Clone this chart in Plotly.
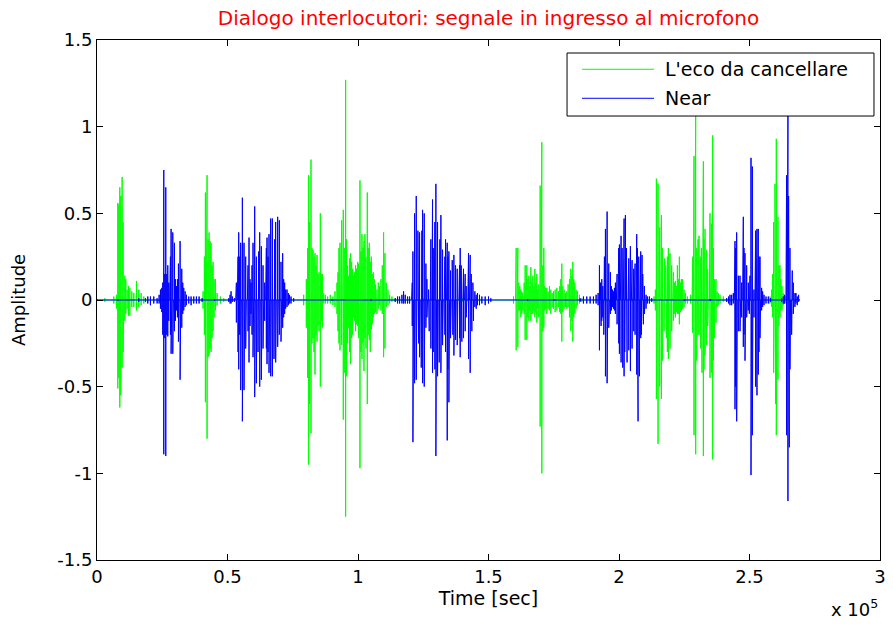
import plotly.graph_objects as go

# ---------------- data (sample index, positive peak, negative peak) ----------------
# "L'eco da cancellare" (green)
echo_t = [
    0, 3000, 6444, 7465, 7975, 8358, 8741, 9124, 9634, 10017, 10272, 10655, 11037, 11548,
    12058, 12569, 13334, 14100, 15121, 16014, 16907, 17928, 25000, 33000,
    40640, 41150, 41534, 41917, 42172, 42555, 42938, 43320, 43703, 44086, 44469, 44852,
    45362, 46000, 47276, 48550, 60000, 70000,
    79186, 80207, 80717, 81100, 81483, 81993, 82376, 82759, 83142, 83524, 83907, 84290,
    84673, 85056, 85566, 85949, 86332, 86842, 87480, 88373, 89394, 90415, 91180, 91946,
    92329, 92712, 93094, 93477, 93733, 94115, 94370, 94753, 95264, 95646, 96029, 96412,
    96795, 97178, 97560, 97943, 98326, 98709, 99092, 99474, 99857, 100240, 100750, 101133,
    101516, 101899, 102282, 102664, 103047, 103558, 103940, 104323, 104706, 105089, 105472,
    105854, 106237, 106748, 107258, 107768, 108279, 108789, 109300, 109810, 110320, 110831,
    111469, 112107, 113000, 114276, 125000, 140000, 150000,
    159584, 160350, 160605, 160988, 161243, 161626, 162008, 162391, 162774, 163157, 163667,
    164050, 164433, 164688, 165071, 165454, 165836, 166219, 166602, 166985, 167368, 167750,
    168133, 168516, 168899, 169282, 169792, 170175, 170430, 170813, 171196, 171578, 171961,
    172344, 172854, 173365, 173875, 174386, 174896, 175534, 176172, 176810, 177320, 177703,
    178086, 178469, 178979, 179490, 180000, 180510, 181021, 181531, 181914, 182297, 182680,
    183062, 183573, 184083, 184849, 185742, 195000, 205000,
    213430, 213940, 214324, 214579, 214962, 215345, 215600, 215983, 216238, 216621, 216876,
    217258, 217514, 217896, 218152, 218534, 218917, 219300, 219555, 219938, 220193, 220576,
    220832, 221214, 221597, 221980, 222363, 222746, 223129, 223512, 223894, 224405, 224915,
    225426, 226191,
    227473, 227984, 228239, 228494, 228749, 229132, 229387, 229770, 230025, 230280, 230663,
    231046, 231301, 231556, 231812, 232067, 232322, 232577, 232960, 233215, 233598, 233981,
    234236, 234619, 234874, 235129, 235384, 235640, 235895, 236150, 236533, 236916, 237171,
    237554, 238064, 238702, 239978, 241254, 250000,
    257842, 258480, 258863, 259246, 259501, 259756, 260011, 260266, 260522, 260904, 261287,
    261670, 262053, 262436, 262946, 263584, 269000,
]
echo_hi = [
    .005, .01, .02, .03, .56, .55, .65, .60, .71, .45, .25, .14, .12, .06,
    .08, .07, .05, .04, .11, .06, .04, .02, .01, .01,
    .05, .25, .62, .55, .72, .35, .39, .34, .33, .20, .22, .12,
    .12, .04, .02, .01, .01, .01,
    .03, .12, .30, .72, .45, .81, .30, .29, .25, .27, .20, .26,
    .15, .16, .50, .15, .15, .04, .03, .02, .03, .02, .05, .10,
    .16, .30, .33, .20, .46, .35, .52, .30, 1.27, .35, .20, .14,
    .24, .27, .22, .18, .14, .16, .20, .18, .22, .21, .69, .28,
    .38, .30, .34, .38, .25, .62, .30, .33, .22, .25, .15,
    .16, .12, .09, .06, .10, .08, .12, .20, .39, .27, .10,
    .06, .03, .02, .01, .01, .01, .01,
    .02, .12, .30, .12, .30, .10, .08, .06, .05, .04, .10,
    .20, .15, .20, .12, .14, .08, .19, .10, .14, .08, .18,
    .10, .15, .06, .09, .66, .40, .91, .20, .30, .08, .07,
    .07, .05, .08, .06, .04, .05, .06, .07, .05, .08, .12,
    .21, .08, .06, .04, .05, .09, .12, .18, .14, .22, .12,
    .10, .06, .05, .03, .01, .01, .01,
    .02, .06, .70, .45, .67, .40, .42, .30, .49, .30, .26,
    .18, .24, .20, .20, .25, .30, .20, .27, .16, .20, .12,
    .16, .10, .11, .08, .20, .12, .25, .10, .12, .12, .06,
    .04, .02,
    .03, .10, .25, .50, .83, .60, 1.10, .30, .24, .35, .37,
    .20, .25, .30, .27, .40, .80, .35, .41, .30, .29, .18,
    .17, .30, .50, .35, .44, .40, .95, .30, .12, .10, .12,
    .05, .04, .03, .02, .01, .01,
    .02, .06, .15, .45, .30, .67, .50, .93, .35, .48, .20,
    .20, .12, .08, .04, .02, .005,
]
echo_lo = [
    -.005, -.01, -.02, -.05, -.51, -.45, -.62, -.55, -.39, -.30, -.30, -.12, -.08, -.05,
    -.09, -.09, -.04, -.04, -.06, -.04, -.03, -.02, -.01, -.01,
    -.05, -.20, -.59, -.55, -.80, -.33, -.32, -.28, -.30, -.22, -.18, -.10,
    -.06, -.03, -.02, -.01, -.01, -.01,
    -.03, -.16, -.45, -.95, -.60, -.77, -.25, -.22, -.30, -.43, -.20, -.24,
    -.15, -.18, -.50, -.12, -.16, -.02, -.02, -.02, -.02, -.03, -.04, -.08,
    -.18, -.25, -.29, -.20, -.26, -.30, -.69, -.42, -1.25, -.44, -.25, -.16,
    -.30, -.37, -.22, -.20, -.10, -.12, -.18, -.14, -.15, -.22, -.97, -.30,
    -.34, -.25, -.41, -.22, -.28, -.60, -.20, -.23, -.30, -.17, -.14,
    -.10, -.08, -.07, -.08, -.05, -.03, -.06, -.08, -.33, -.28, -.04,
    -.03, -.02, -.01, -.01, -.01, -.01, -.01,
    -.02, -.08, -.29, -.10, -.27, -.06, -.06, -.10, -.08, -.06, -.08,
    -.23, -.15, -.23, -.10, -.12, -.06, -.12, -.08, -.08, -.06, -.10,
    -.07, -.13, -.05, -.10, -.73, -.50, -1.00, -.18, -.16, -.06, -.05,
    -.08, -.05, -.06, -.08, -.04, -.05, -.07, -.06, -.04, -.07, -.08,
    -.24, -.07, -.05, -.04, -.05, -.04, -.10, -.18, -.12, -.24, -.10,
    -.08, -.05, -.03, -.02, -.01, -.01, -.01,
    -.02, -.06, -.57, -.55, -.83, -.45, -.50, -.25, -.57, -.35, -.30,
    -.18, -.18, -.15, -.22, -.30, -.34, -.18, -.28, -.14, -.18, -.10,
    -.12, -.08, -.10, -.07, -.08, -.08, -.14, -.07, -.06, -.05, -.04,
    -.02, -.02,
    -.02, -.08, -.19, -.40, -.78, -.50, -.89, -.35, -.30, -.20, -.20,
    -.25, -.28, -.35, -.42, -.50, -.90, -.40, -.32, -.25, -.26, -.15,
    -.12, -.30, -.45, -.30, -.42, -.40, -.92, -.35, -.22, -.10, -.13,
    -.04, -.03, -.02, -.01, -.01, -.01,
    -.02, -.04, -.10, -.42, -.35, -.54, -.60, -.78, -.45, -.46, -.15,
    -.10, -.06, -.06, -.03, -.02, -.005,
]

# "Near" (blue)
near_t = [
    0, 8000, 16000, 18566, 19459, 20480, 21756, 23032, 23797, 24308, 24818, 25201, 25584,
    25967, 26350, 26732, 27115, 27498, 27881, 28136, 28392, 28647, 29030, 29285, 29668,
    30050, 30433, 30816, 31199, 31454, 31837, 32092, 32475, 32858, 33241, 33751, 34262,
    35155, 36048, 37069, 38090, 39111, 40260, 45000,
    50466, 50976, 51359, 51869, 52635, 53145, 53401, 53783, 54038, 54294, 54676, 55059,
    55314, 55697, 55952, 56335, 56590, 56973, 57228, 57611, 57866, 58249, 58632, 59015,
    59398, 59780, 60035, 60418, 60674, 61056, 61312, 61694, 61950, 62332, 62588, 62970,
    63226, 63608, 63864, 64246, 64629, 64884, 65140, 65522, 65905, 66160, 66543, 66798,
    67181, 67436, 67819, 68074, 68457, 68712, 69223, 69478, 69861, 70116, 70499, 70754,
    71137, 71519, 71902, 72285, 72796, 73306, 73689, 74327, 75348, 90000, 105000,
    114276, 115169, 115935, 116828, 117466, 118104, 118997, 119763, 120528, 120784, 121039,
    121294, 121677, 121932, 122315, 122570, 122953, 123208, 123591, 123846, 124229, 124484,
    124739, 124994, 125377, 125632, 126015, 126398, 126653, 127036, 127291, 127674, 127929,
    128312, 128567, 128822, 129205, 129460, 129843, 130098, 130481, 130736, 131119, 131374,
    131757, 132012, 132395, 132650, 133033, 133288, 133544, 133926, 134182, 134437, 134820,
    135075, 135458, 135713, 136096, 136351, 136734, 136989, 137372, 137627, 138010, 138265,
    138648, 138903, 139158, 139541, 139796, 140179, 140434, 140817, 141072, 141455, 141710,
    142093, 142348, 142731, 142986, 143369, 143624, 144007, 144262, 144772, 145283, 145793,
    146559, 147452, 148728, 150004, 150897, 165000, 175000,
    185104, 186380, 187656, 188932, 190208, 191229, 191994, 192505, 192888, 193143, 193398,
    193781, 194164, 194419, 194802, 195057, 195440, 195695, 196078, 196333, 196716, 197098,
    197481, 197864, 198247, 198630, 199012, 199268, 199650, 199906, 200160, 200544, 200799,
    201182, 201437, 201692, 201947, 202202, 202458, 202840, 203096, 203478, 203734, 204116,
    204372, 204754, 205010, 205392, 205648, 205903, 206158, 206541, 206796, 207051, 207306,
    207562, 207817, 208072, 208327, 208582, 208838, 209093, 209348, 209731, 209986, 210369,
    210879, 211645, 212538, 225000, 235000,
    241254, 242020, 242530, 243168, 243806, 244189, 244444, 244699, 245082, 245337, 245720,
    245975, 246358, 246613, 246996, 247379, 247634, 247889, 248272, 248527, 248910, 249165,
    249548, 249931, 250186, 250569, 250824, 251079, 251334, 251717, 252100, 252355, 252610,
    252866, 253121, 253376, 253631, 254014, 254269, 254652, 255035, 255545, 256311, 257204,
    258097,
    262308, 262946, 263456, 263967, 264222, 264477, 264732, 264987, 265243, 265498, 265753,
    266136, 266391, 266774, 267029, 267412, 267795, 268305, 268816, 269326,
]
near_hi = [
    .005, .005, .01, .01, .02, .02, .02, .01, .03, .06, .07, .10, .75,
    .15, .65, .15, .20, .10, .15, .25, .41, .30, .39, .20, .33,
    .12, .08, .12, .21, .15, .34, .20, .18, .10, .07, .05, .03,
    .02, .02, .02, .02, .02, .01, .005,
    .01, .03, .05, .02, .01, .06, .10, .20, .25, .39, .25, .33,
    .30, .59, .30, .33, .20, .25, .10, .10, .20, .36, .12, .10,
    .20, .33, .20, .54, .30, .25, .20, .12, .28, .39, .25, .31,
    .18, .20, .10, .10, .15, .30, .36, .25, .38, .30, .47, .40,
    .47, .30, .22, .35, .45, .30, .48, .30, .46, .20, .22, .15,
    .27, .12, .10, .06, .06, .04, .03, .02, .01, .005, .005,
    .01, .02, .02, .03, .05, .03, .02, .02, .03, .10, .28,
    .20, .50, .30, .60, .30, .40, .20, .39, .25, .37, .40,
    .52, .30, .50, .25, .21, .12, .10, .06, .04, .25, .35,
    .40, .58, .30, .39, .45, .67, .40, .45, .30, .27, .35,
    .49, .30, .29, .20, .21, .25, .35, .30, .33, .25, .28,
    .15, .17, .15, .23, .15, .26, .20, .20, .15, .18, .12,
    .10, .20, .30, .20, .18, .15, .18, .12, .15, .08, .07,
    .15, .27, .20, .26, .15, .14, .10, .10, .05, .03, .04,
    .03, .02, .02, .02, .01, .005, .005,
    .01, .02, .02, .02, .02, .03, .04, .20, .10, .10, .12,
    .08, .21, .25, .41, .30, .51, .25, .21, .10, .16, .08,
    .06, .05, .07, .10, .14, .15, .20, .30, .32, .35, .37,
    .30, .26, .35, .47, .40, .49, .30, .29, .20, .24, .30,
    .31, .20, .23, .15, .18, .12, .21, .30, .38, .30, .29,
    .25, .23, .20, .28, .20, .26, .15, .15, .08, .04, .03,
    .02, .02, .01, .005, .005,
    .01, .02, .03, .03, .04, .10, .34, .30, .39, .20, .14,
    .10, .14, .10, .10, .20, .48, .30, .27, .15, .20, .10,
    .10, .12, .14, .82, .50, .77, .20, .06, .25, .40, .30,
    .41, .35, .41, .25, .25, .12, .07, .05, .03, .02, .02,
    .01,
    .01, .02, .03, .10, .72, .50, 1.07, .60, .43, .30, .27,
    .15, .17, .10, .05, .04, .04, .02, .03, 0,
]
near_lo = [
    -.005, -.005, -.01, -.01, -.02, -.03, -.02, -.02, -.02, -.05, -.07, -.20, -.89,
    -.22, -.90, -.20, -.21, -.12, -.12, -.20, -.31, -.20, -.31, -.15, -.18,
    -.12, -.06, -.10, -.24, -.20, -.46, -.15, -.16, -.08, -.06, -.04, -.03,
    -.02, -.03, -.02, -.02, -.02, -.01, -.005,
    -.01, -.02, -.02, -.01, -.01, -.05, -.13, -.15, -.30, -.40, -.20, -.52,
    -.35, -.70, -.40, -.52, -.25, -.28, -.14, -.16, -.18, -.36, -.15, -.08,
    -.20, -.33, -.30, -.56, -.35, -.48, -.30, -.30, -.25, -.50, -.35, -.46,
    -.20, -.28, -.10, -.12, -.20, -.28, -.37, -.30, -.42, -.35, -.44, -.35,
    -.44, -.30, -.34, -.25, -.36, -.20, -.27, -.20, -.20, -.15, -.24, -.12,
    -.16, -.10, -.08, -.05, -.04, -.03, -.02, -.02, -.01, -.005, -.005,
    -.01, -.02, -.02, -.02, -.02, -.02, -.02, -.02, -.03, -.15, -.82,
    -.30, -.48, -.40, -.46, -.20, -.22, -.25, -.33, -.30, -.39, -.35,
    -.48, -.40, -.50, -.30, -.16, -.10, -.08, -.12, -.18, -.20, -.28,
    -.35, -.42, -.30, -.32, -.40, -.90, -.45, -.44, -.30, -.36, -.30,
    -.42, -.25, -.26, -.22, -.18, -.20, -.30, -.40, -.81, -.40, -.59,
    -.25, -.22, -.15, -.16, -.20, -.32, -.25, -.23, -.18, -.26, -.15,
    -.18, -.22, -.33, -.20, -.24, -.15, -.22, -.15, -.18, -.10, -.10,
    -.20, -.34, -.30, -.42, -.15, -.18, -.10, -.12, -.04, -.05, -.03,
    -.03, -.02, -.03, -.02, -.01, -.005, -.005,
    -.01, -.02, -.02, -.02, -.02, -.02, -.03, -.29, -.10, -.15, -.12,
    -.10, -.20, -.20, -.44, -.30, -.48, -.20, -.16, -.10, -.08, -.06,
    -.04, -.05, -.06, -.08, -.08, -.14, -.20, -.25, -.31, -.30, -.36,
    -.25, -.39, -.30, -.44, -.30, -.29, -.30, -.36, -.20, -.29, -.30,
    -.41, -.25, -.28, -.15, -.18, -.15, -.20, -.30, -.43, -.40, -.70,
    -.35, -.44, -.20, -.22, -.20, -.18, -.12, -.14, -.08, -.08, -.05,
    -.02, -.02, -.01, -.005, -.005,
    -.01, -.02, -.03, -.03, -.02, -.10, -.63, -.50, -.70, -.30, -.18,
    -.15, -.18, -.12, -.10, -.15, -.27, -.20, -.35, -.20, -.10, -.08,
    -.06, -.08, -.08, -1.01, -.60, -.78, -.20, -.10, -.30, -.50, -.40,
    -.55, -.40, -.43, -.30, -.22, -.10, -.06, -.04, -.03, -.02, -.02,
    -.01,
    -.01, -.02, -.02, -.10, -.78, -.90, -1.16, -.70, -.85, -.40, -.26,
    -.20, -.16, -.08, -.08, -.04, -.02, -.03, -.01, 0,
]

series_names = ["L'eco da cancellare", "Near"]
series_colors = ["#00FF00", "#0000FF"]
x_tick_vals = [0, 50000, 100000, 150000, 200000, 250000, 300000]
x_tick_text = ["0", "0.5", "1", "1.5", "2", "2.5", "3"]
y_tick_vals = [-1.5, -1.0, -0.5, 0, 0.5, 1.0, 1.5]
y_tick_text = ["-1.5", "-1", "-0.5", "0", "0.5", "1", "1.5"]

assert len(echo_t) == len(echo_hi) == len(echo_lo), (len(echo_t), len(echo_hi), len(echo_lo))
assert len(near_t) == len(near_hi) == len(near_lo), (len(near_t), len(near_hi), len(near_lo))


def waveform(t, hi, lo):
    """Each sample is drawn as a vertical excursion that leaves and returns to the baseline."""
    xs, ys = [], []
    for ti, h, l in zip(t, hi, lo):
        xs += [ti, ti, ti, ti]
        ys += [0, h, l, 0]
    return xs, ys


FONT = "DejaVu Sans"
fig = go.Figure()
for (t, hi, lo), name, col in zip([(echo_t, echo_hi, echo_lo), (near_t, near_hi, near_lo)],
                                  series_names, series_colors):
    xs, ys = waveform(t, hi, lo)
    fig.add_trace(go.Scatter(x=xs, y=ys, mode="lines", name=name,
                             line=dict(color=col, width=1), hoverinfo="skip"))

axis_common = dict(showline=True, linecolor="black", linewidth=1, mirror="ticks",
                   ticks="inside", ticklen=6, tickcolor="black", showgrid=False,
                   zeroline=False, automargin=False,
                   tickfont=dict(family=FONT, size=18, color="black"))

fig.update_layout(
    width=893, height=626,
    margin=dict(l=97, r=13, t=40, b=66),
    paper_bgcolor="white", plot_bgcolor="white",
    showlegend=False,
    font=dict(family=FONT, size=18, color="black"),
    title=dict(text="Dialogo interlocutori: segnale in ingresso al microfono",
               font=dict(family=FONT, size=20, color="#FF0000"),
               x=0.5, xref="paper", y=1 - 18 / 626, yref="container", yanchor="middle"),
    xaxis=dict(range=[0, 300000], tickvals=x_tick_vals, ticktext=x_tick_text,
               title=dict(text="Time [sec]", standoff=0, font=dict(family=FONT, size=19)),
               **axis_common),
    yaxis=dict(range=[-1.5, 1.5], tickvals=y_tick_vals, ticktext=y_tick_text,
               title=dict(text="Amplitude", standoff=26, font=dict(family=FONT, size=18)),
               **axis_common),
)

# x 10^5 exponent label
fig.add_annotation(text="x 10<sup>5</sup>", xref="paper", yref="paper", x=1.0, y=-0.093,
                   xanchor="right", yanchor="middle", showarrow=False,
                   font=dict(family=FONT, size=18, color="black"))

# MATLAB-style legend box
lx0, lx1, ly0, ly1 = 0.6003, 0.9923, 0.8538, 0.975
fig.add_shape(type="rect", xref="paper", yref="paper", x0=lx0, x1=lx1, y0=ly0, y1=ly1,
              line=dict(color="black", width=1), fillcolor="white", layer="above")
for name, col, yy in zip(series_names, series_colors, [0.9437, 0.8879]):
    fig.add_shape(type="line", xref="paper", yref="paper", x0=0.6194, x1=0.7114, y0=yy, y1=yy,
                  line=dict(color=col, width=1), layer="above")
    fig.add_annotation(text=name, xref="paper", yref="paper", x=0.7229, y=yy,
                       xanchor="left", yanchor="middle", showarrow=False,
                       font=dict(family=FONT, size=19, color="black"))

fig.write_html("out.html", config={"displayModeBar": False},
               post_script="document.body.style.margin='0';")
